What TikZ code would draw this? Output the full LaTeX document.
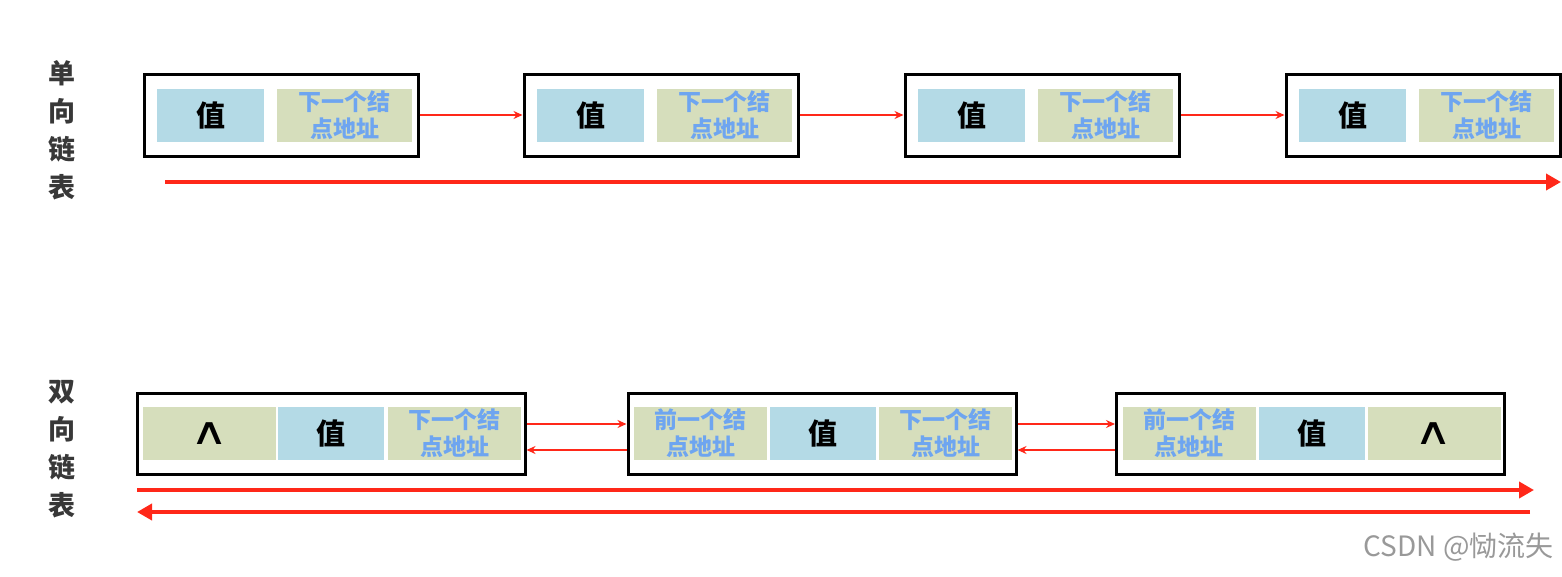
\documentclass[tikz,border=0pt]{standalone}
\usepackage{fontspec}
\newfontfamily\cjk{Noto Sans CJK SC}
\newfontfamily\djv{DejaVu Sans}
\usetikzlibrary{arrows.meta}
\definecolor{cellblue}{RGB}{180,218,230}
\definecolor{cellgreen}{RGB}{214,222,188}
\definecolor{txtblue}{RGB}{110,165,240}
\definecolor{linkred}{RGB}{255,40,25}
\tikzset{
  nodebox/.style={draw=black, line width=3pt, fill=white, rectangle, inner sep=0pt},
  cellv/.style={rectangle, inner sep=0pt, fill=cellblue, minimum height=53pt, font=\cjk\bfseries\fontsize{29}{30}\selectfont},
  celladdr/.style={rectangle, inner sep=0pt, fill=cellgreen, minimum height=53pt, align=center, text=txtblue, font=\cjk\bfseries\fontsize{23}{27}\selectfont},
  cellnull/.style={rectangle, inner sep=0pt, fill=cellgreen, minimum height=53pt, font=\djv\fontsize{26}{28}\selectfont},
  sidelabel/.style={align=center, text=black!78, font=\cjk\bfseries\fontsize{27}{38}\selectfont},
  linkarrow/.style={draw=linkred, line width=2.5pt, -{Stealth[length=9pt,width=8pt]}},
  longarrow/.style={draw=linkred, line width=4pt, -{Triangle[length=15pt,width=16pt]}},
}
\newcommand{\nullmark}{\raisebox{-2pt}{\scalebox{2}[1.45]{∧}}}
\begin{document}
\begin{tikzpicture}[x=1pt,y=-1pt]
\useasboundingbox (0,0) rectangle (1562,576);
% labels
\node[sidelabel] (lab1) at (62,130) {单\\向\\链\\表};
\node[sidelabel] (lab2) at (62,449) {双\\向\\链\\表};
% singly linked list
\foreach \i/\cx in {1/281,2/661,3/1042,4/1423}{
  \node[nodebox, minimum width=274pt, minimum height=82pt] (s\i) at (\cx,115) {};
  \node[cellv, minimum width=107pt] (s\i v) at (\cx-70.5,115.5) {值};
  \node[celladdr, minimum width=135pt] (s\i n) at (\cx+63.5,115.5) {下一个结\\点地址};
}
\draw[linkarrow] (s1.east) -- (s2.west);
\draw[linkarrow] (s2.east) -- (s3.west);
\draw[linkarrow] (s3.east) -- (s4.west);
\coordinate (sa) at (165,182);
\coordinate (sb) at (1561,182);
\draw[longarrow] (sa) -- (sb);
% doubly linked list
\foreach \i/\cx in {1/331,2/822,3/1310.5}{
  \node[nodebox, minimum width=388pt, minimum height=81pt] (d\i) at (\cx,433.5) {};
}
\node[cellnull, minimum width=133pt] (d1p) at (331-121.5,433.5) {\nullmark};
\node[cellv, minimum width=106pt] (d1v) at (331,433.5) {值};
\node[celladdr, minimum width=133pt] (d1n) at (331+123.5,433.5) {下一个结\\点地址};
\node[celladdr, minimum width=133pt] (d2p) at (822-121.5,433.5) {前一个结\\点地址};
\node[cellv, minimum width=106pt] (d2v) at (822+1,433.5) {值};
\node[celladdr, minimum width=133pt] (d2n) at (822+123.5,433.5) {下一个结\\点地址};
\node[celladdr, minimum width=133pt] (d3p) at (1310.5-121.5,433.5) {前一个结\\点地址};
\node[cellv, minimum width=106pt] (d3v) at (1310.5+1,433.5) {值};
\node[cellnull, minimum width=133pt] (d3n) at (1310.5+123.5,433.5) {\nullmark};
\draw[linkarrow] ([yshift=9.5pt]d1.east) -- ([yshift=9.5pt]d2.west);
\draw[linkarrow] ([yshift=-16.5pt]d2.west) -- ([yshift=-16.5pt]d1.east);
\draw[linkarrow] ([yshift=9.5pt]d2.east) -- ([yshift=9.5pt]d3.west);
\draw[linkarrow] ([yshift=-16.5pt]d3.west) -- ([yshift=-16.5pt]d2.east);
\coordinate (da) at (137,490);
\coordinate (db) at (1534,490);
\coordinate (dc) at (1530,512);
\coordinate (dd) at (137,512);
\draw[longarrow] (da) -- (db);
\draw[longarrow] (dc) -- (dd);
% watermark
\node[text=black!40, font=\cjk\fontsize{28}{30}\selectfont, anchor=east] (wm) at (1557,547) {CSDN @恸流失};
\end{tikzpicture}
\end{document}
